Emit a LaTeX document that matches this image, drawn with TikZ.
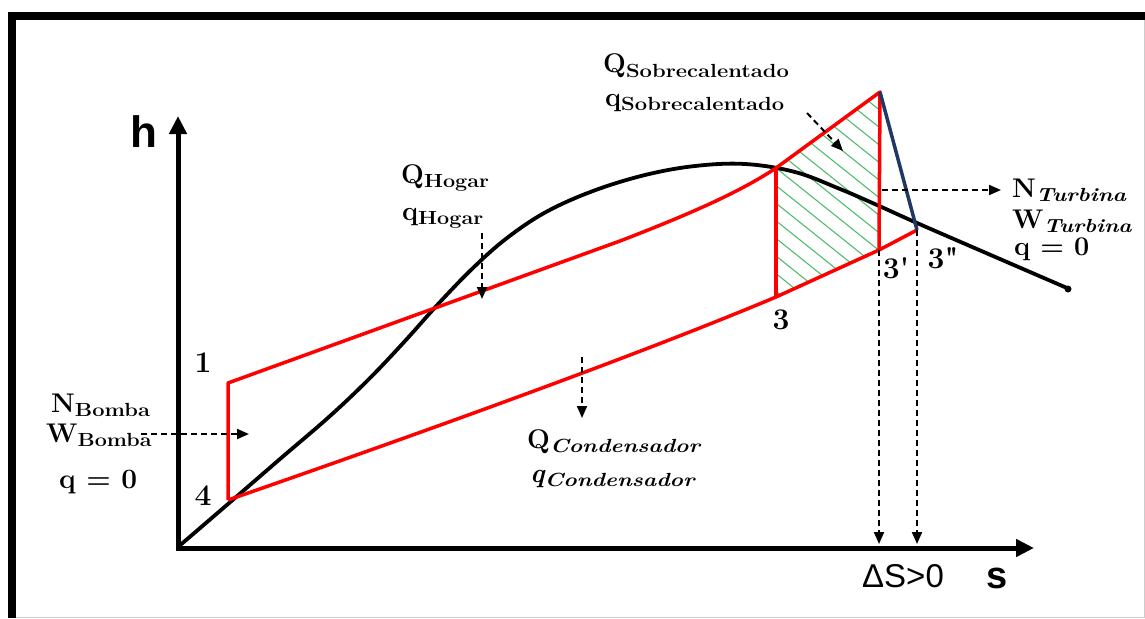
\documentclass[tikz,border=0pt]{standalone}
\usepackage{fontspec}
\usepackage{graphicx}
\usetikzlibrary{arrows.meta}
\newfontfamily\arialfont{Liberation Sans}
\definecolor{cyred}{RGB}{255,0,0}
\definecolor{cynavy}{RGB}{31,56,100}
\definecolor{hatchgreen}{RGB}{80,185,110}
\newcommand\cyl[3]{{\fontsize{27}{30}\selectfont\bfseries #1}\raisebox{-4.5pt}{\resizebox{#3pt}{\height}{\fontsize{19}{20}\selectfont\bfseries #2}}}
\newcommand\cyli[3]{{\fontsize{27}{30}\selectfont\bfseries #1}\raisebox{-4.5pt}{\resizebox{#3pt}{\height}{\fontsize{19}{20}\selectfont\bfseries\itshape #2}}}
\begin{document}
\begin{tikzpicture}[x=1pt,y=-1pt,
  axis/.style={line width=5pt, line join=miter},
  dome/.style={line width=3.8pt, black},
  cyc/.style={line width=3.5pt, cyred, line join=round},
  turb/.style={line width=3.5pt, cynavy},
  hatch/.style={line width=1.1pt, hatchgreen},
  darr/.style={line width=2pt, dash pattern=on 6pt off 4pt, -{Triangle[length=12pt,width=10pt]}},
  lbl/.style={inner sep=0pt, anchor=base west},
  num/.style={font=\fontsize{30}{32}\selectfont\bfseries, inner sep=0pt, anchor=base},
  sans/.style={font=\arialfont\fontsize{33}{36}\selectfont, inner sep=0pt, anchor=base},
]
\useasboundingbox (0,0) rectangle (1145,618);
% frame
\fill[black] (8,12) rectangle (1145,20);
\fill[black] (8,12) rectangle (16,618);
\draw[gray!40, line width=1pt] (16,617.5) -- (1145,617.5);
\draw[gray!40, line width=1pt] (1144.5,20) -- (1144.5,617);
% coordinates
\coordinate (O) at (178,548);
\coordinate (htip) at (178,116);
\coordinate (stip) at (1034,548);
\coordinate (p1) at (228,383);
\coordinate (p4) at (228,500);
\coordinate (p2a) at (776,168);
\coordinate (p2) at (880,92);
\coordinate (p3) at (776,297);
\coordinate (p3p) at (879,250);
\coordinate (p3pp) at (917,230);
% axes
\draw[axis, {Triangle[length=18pt,width=17pt]}-{Triangle[length=18pt,width=17pt]}] (htip) -- (O) -- (stip);
% hatching
\begin{scope}
\clip (p2a) -- (p2) -- (p3p) -- (p3) -- cycle;
\foreach \x in {490,512,...,900} \draw[hatch] (\x,80) -- ++(300,240);
\end{scope}
% saturation dome
\draw[dome, line join=round] plot[smooth, tension=0.6] coordinates {(178,547) (228,504) (280,459) (330,416) (370,378) (405,341) (440,302) (474,267) (507,238) (546,212) (593,191) (645,175) (695,166) (745,164) (795,172) (840,189) (877,205) (917,223) (993,256) (1067,288)};
\fill (1068,289) circle (3.5pt);
% cycle
\draw[cyc] (p4) -- (p1) -- (620,241) .. controls (690,214) and (740,192) .. (p2a) -- (p2) -- (p3p);
\draw[cyc] (p2a) -- (p3);
\draw[cyc] (p4) .. controls (450,423) and (650,350) .. (p3) -- (p3p) -- (p3pp);
\draw[turb] (p2) -- (p3pp);
% dashed arrows
\coordinate (sA) at (807,113); \coordinate (sB) at (843,151);
\coordinate (hA) at (482,233); \coordinate (hB) at (482,299);
\coordinate (cA) at (582,357); \coordinate (cB) at (582,418);
\coordinate (bA) at (141,434); \coordinate (bB) at (249,434);
\coordinate (tA) at (882,190); \coordinate (tB) at (1001,190);
\coordinate (d1) at (879,544); \coordinate (d2) at (917,544);
\draw[darr] (sA) -- (sB);
\draw[darr] (hA) -- (hB);
\draw[darr] (cA) -- (cB);
\draw[darr] (bA) -- (bB);
\draw[darr] (tA) -- (tB);
\draw[darr] (p3p) -- (d1);
\draw[darr] (p3pp) -- (d2);
% labels
\node[lbl] (Qsob) at (603,73) {\cyl{Q}{Sobrecalentado}{163}};
\node[lbl] (qsob) at (605,106) {\cyl{q}{Sobrecalentado}{163}};
\node[lbl] (Qhog) at (401,183) {\cyl{Q}{Hogar}{65}};
\node[lbl] (qhog) at (402,220) {\cyl{q}{Hogar}{65}};
\node[lbl] (Qcon) at (527,448) {\cyli{Q}{Condensador}{150}};
\node[lbl] (qcon) at (530,482) {\cyli{\itshape q}{Condensador}{150}};
\node[lbl] (Ntur) at (1012,197) {\cyli{N}{Turbina}{90}};
\node[lbl] (Wtur) at (1012,228) {\cyli{W}{Turbina}{88}};
\node[lbl, font=\fontsize{27}{30}\selectfont\bfseries] (qtur) at (1014,255) {q = 0};
\node[lbl] (Nbom) at (51,412) {\cyl{N}{Bomba}{75}};
\node[lbl] (Wbom) at (46,442) {\cyl{W}{Bomba}{74}};
\node[lbl, font=\fontsize{28}{30}\selectfont\bfseries] (qbom) at (59,488) {q = 0};
\node[num] (n1) at (203,372) {1};
\node[num] (n4) at (203,505) {4};
\node[num] (n3) at (781,329) {3};
\node[num] (n3p) at (896,278) {3\textquotesingle};
\node[num] (n3pp) at (943,268) {3\textquotedbl};
\node[sans, font=\arialfont\bfseries\fontsize{44}{48}\selectfont] (hl) at (144,147) {h};
\node[sans, font=\arialfont\bfseries\fontsize{38}{40}\selectfont] (sl) at (997,588) {s};
\node[sans] (ds) at (903,587) {ΔS>0};
\end{tikzpicture}
\end{document}
